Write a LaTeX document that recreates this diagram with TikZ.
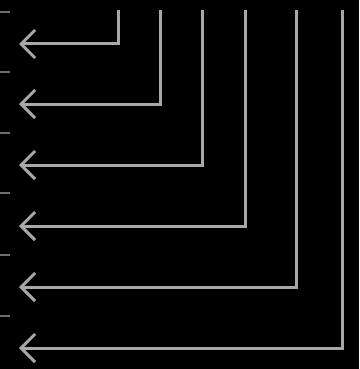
\documentclass[tikz,border=0pt]{standalone}
\usetikzlibrary{arrows.meta}
\definecolor{linegray}{HTML}{A8A8A8}
\definecolor{tickgray}{HTML}{6E6E6E}
\begin{document}
\begin{tikzpicture}[x=1pt,y=-1pt,
  conn/.style={draw=linegray,line width=3pt,line join=miter,-{Straight Barb[length=14pt,width=28pt,line width=3pt]}},
  tickmark/.style={draw=tickgray,line width=1.3pt}]
\fill[black] (0,0) rectangle (359,369);
\useasboundingbox (0,0) rectangle (359,369);
\foreach \i/\x/\y/\t in {1/118/44/12, 2/160/104/72, 3/202/165/133, 4/245/226/193, 5/296/287/255, 6/342/348/316}{
  \coordinate (top\i) at (\x,10);
  \coordinate (end\i) at (19,\y);
  \coordinate (tl\i) at (0,\t);
  \coordinate (tr\i) at (10,\t);
  \draw[conn] (top\i) |- (end\i);
  \draw[tickmark] (tl\i) -- (tr\i);
}
\end{tikzpicture}
\end{document}
